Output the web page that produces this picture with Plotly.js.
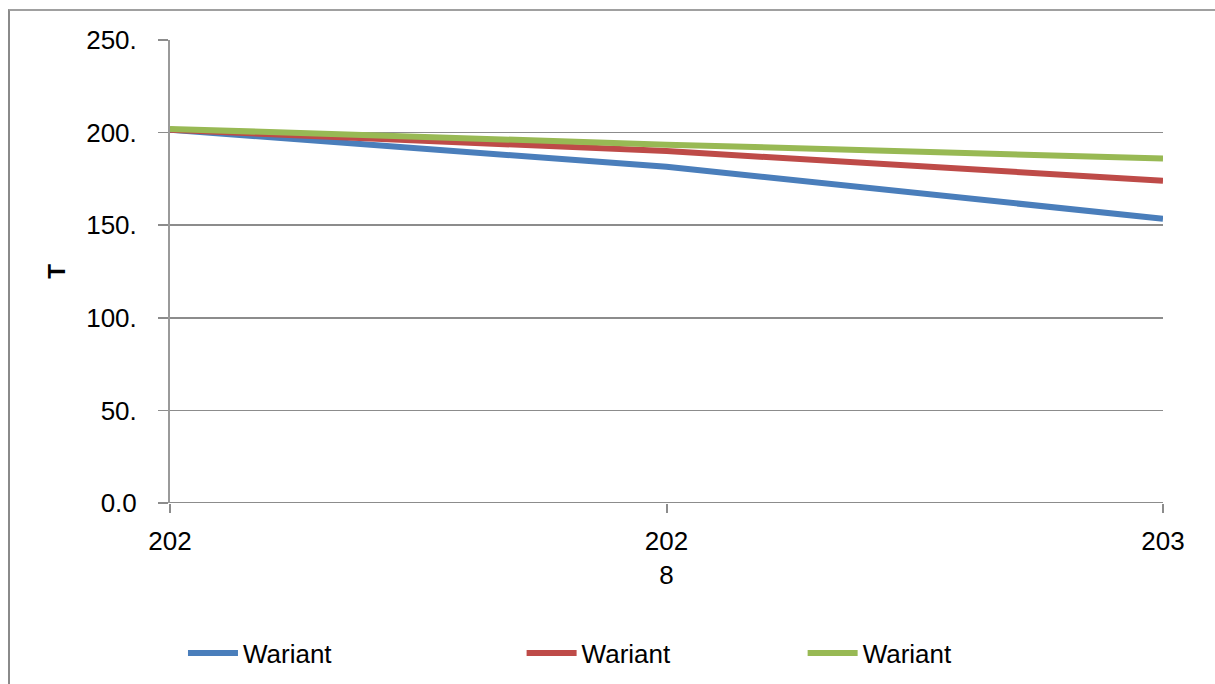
<!DOCTYPE html>
<html>
<head>
<meta charset="utf-8">
<script src="https://cdn.plot.ly/plotly-3.0.1.min.js"></script>
<style>
  html, body { margin: 0; padding: 0; background: #fff; }
  #wrap { position: relative; width: 1215px; height: 684px; overflow: hidden; }
  #frame { position: absolute; left: 8px; top: 9px; width: 1300px; height: 800px;
           border-left: 2px solid #8a8a8a; border-top: 2px solid #a0a0a0; pointer-events: none; }
  #chart { position: absolute; left: 0; top: 0; width: 1215px; height: 684px; }
</style>
</head>
<body>
<div id="wrap">
  <div id="chart"></div>
  <div id="frame"></div>
</div>
<script>
// Data
const categories = ["202", "202<br>8", "203"];
const seriesNames = ["Wariant", "Wariant", "Wariant"];
const wariant1 = [201.5, 181.5, 153.5];
const wariant2 = [201.5, 190.0, 174.0];
const wariant3 = [202.0, 193.5, 186.0];
const yTickVals = [0, 50, 100, 150, 200, 250];
const yTickText = ["0.0", "50.", "100.", "150.", "200.", "250."];

const colors = ["#4a7ebb", "#be4b48", "#98b954"];
const seriesValues = [wariant1, wariant2, wariant3];
const legendIds = ["legend", "legend2", "legend3"];

const traces = seriesValues.map((vals, i) => ({
  type: "scatter",
  mode: "lines",
  x: categories,
  y: vals,
  name: seriesNames[i],
  line: { color: colors[i], width: 6 },
  legend: legendIds[i],
  hoverinfo: "skip"
}));

const font = { family: "Liberation Sans, Arial, sans-serif", size: 26, color: "#000" };
const legendBase = {
  orientation: "h",
  xref: "container",
  yref: "container",
  yanchor: "middle",
  xanchor: "left",
  y: 0.0453,
  font: font,
  bgcolor: "rgba(0,0,0,0)",
  itemwidth: 50
};

const layout = {
  width: 1215,
  height: 684,
  margin: { l: 170, r: 52, t: 40, b: 181, pad: 0, autoexpand: false },
  paper_bgcolor: "#fff",
  plot_bgcolor: "#fff",
  font: font,
  showlegend: true,
  xaxis: {
    type: "category",
    range: [0, 2],
    showgrid: false,
    showline: false,
    zeroline: false,
    ticks: "outside",
    ticklen: 9,
    tickwidth: 2,
    tickcolor: "#8c8c8c",
    tickfont: font,
    tickangle: 0,
    ticklabelstandoff: 6,
    fixedrange: true
  },
  yaxis: {
    range: [0, 250],
    tickvals: yTickVals,
    ticktext: yTickText,
    showgrid: true,
    gridcolor: "#8c8c8c",
    gridwidth: 1.5,
    showline: true,
    linecolor: "#9a9a9a",
    linewidth: 2,
    zeroline: false,
    ticks: "outside",
    ticklen: 10,
    tickwidth: 1.5,
    tickcolor: "#8c8c8c",
    tickfont: font,
    ticklabelstandoff: 16,
    title: { text: "T", font: { family: "Liberation Sans, Arial, sans-serif", size: 24, color: "#000", weight: "bold" }, standoff: 14 },
    fixedrange: true
  },
  legend: Object.assign({}, legendBase, { x: 0.1506 }),
  legend2: Object.assign({}, legendBase, { x: 0.4293 }),
  legend3: Object.assign({}, legendBase, { x: 0.6606 }),
  shapes: [
    { type: "line", xref: "paper", yref: "y", x0: 0, x1: 1, y0: 0, y1: 0, line: { color: "#8c8c8c", width: 2 }, layer: "below" }
  ]
};

Plotly.newPlot("chart", traces, layout, { displayModeBar: false, staticPlot: true });
</script>
</body>
</html>
